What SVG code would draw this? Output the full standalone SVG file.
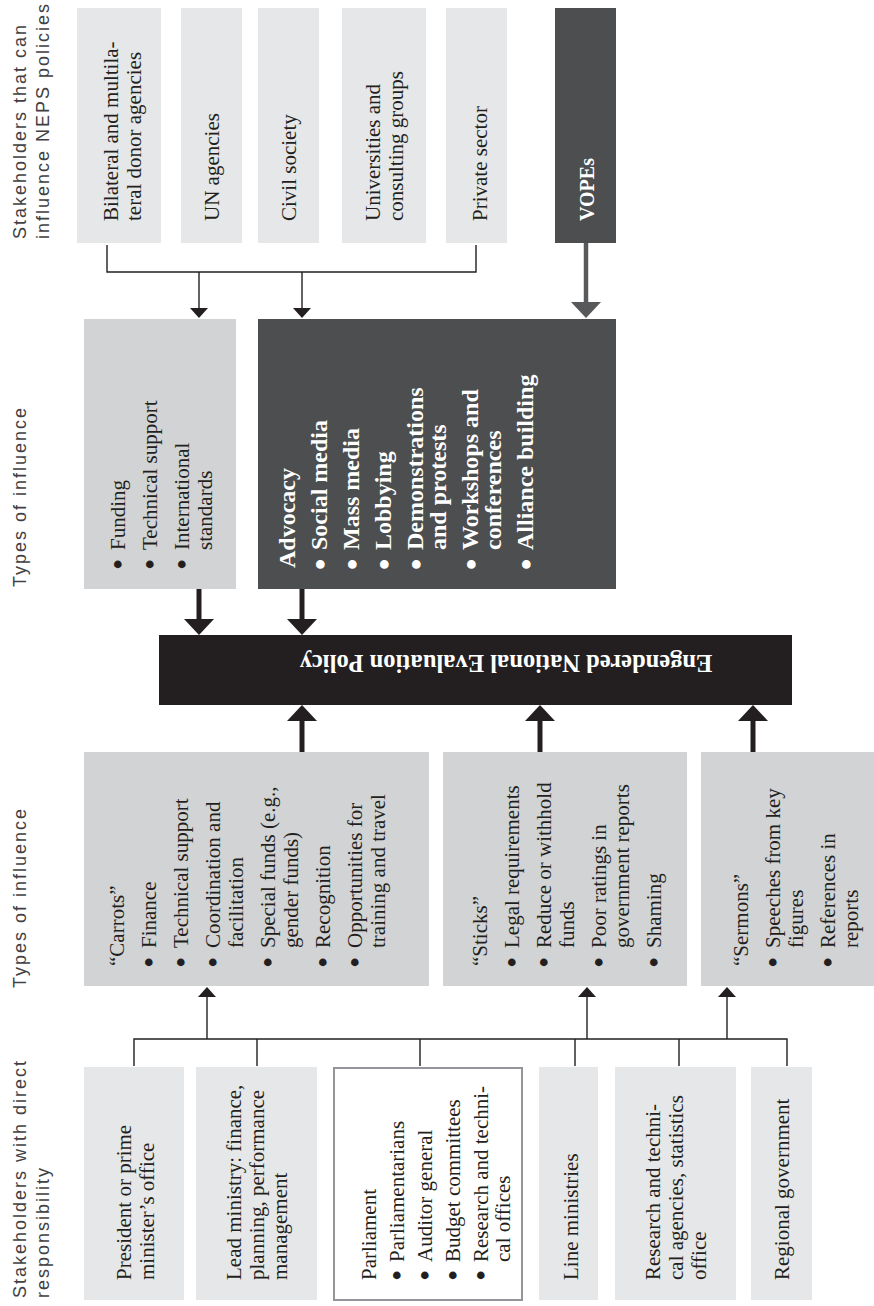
<svg xmlns="http://www.w3.org/2000/svg" width="874" height="1306" viewBox="0 0 874 1306">
<style>
.s{font-family:"Liberation Serif","Times New Roman",serif;font-size:21px;fill:#231f20}
.bw{font-family:"Liberation Serif","Times New Roman",serif;font-weight:bold;font-size:24px;fill:#ffffff}
.bu{font-size:32px}
.lab{font-family:"Liberation Sans",Arial,sans-serif;font-size:18px;letter-spacing:2px;fill:#414042}
.lg{fill:#e6e7e8}
.mg{fill:#d1d3d4}
.dk{fill:#4d4e50}
.ln{fill:none;stroke:#231f20;stroke-width:1.4}
.thk{fill:none;stroke:#231f20;stroke-width:5}
</style>
<defs>
<marker id="ah" viewBox="0 0 10 18" refX="0" refY="9" markerWidth="10" markerHeight="18" markerUnits="userSpaceOnUse" orient="auto"><path d="M0,0 L10,9 L0,18 z" fill="#231f20"/></marker>
<marker id="ahb" viewBox="0 0 16 30" refX="0" refY="15" markerWidth="16" markerHeight="30" markerUnits="userSpaceOnUse" orient="auto"><path d="M0,0 L16,15 L0,30 z" fill="#231f20"/></marker>
<marker id="ahg" viewBox="0 0 16 30" refX="0" refY="15" markerWidth="16" markerHeight="30" markerUnits="userSpaceOnUse" orient="auto"><path d="M0,0 L16,15 L0,30 z" fill="#58595b"/></marker>
</defs>

<g id="labels">
<g transform="translate(0,239) rotate(-90)"><text class="lab" x="0" y="26">Stakeholders that can</text><text class="lab" x="0" y="49">influence NEPS policies</text></g>
<g transform="translate(0,587) rotate(-90)"><text class="lab" x="0" y="26">Types of influence</text></g>
<g transform="translate(0,988) rotate(-90)"><text class="lab" x="0" y="26">Types of influence</text></g>
<g transform="translate(0,1298) rotate(-90)"><text class="lab" x="0" y="26">Stakeholders with direct</text><text class="lab" x="0" y="49">responsibility</text></g>
</g>

<g id="bilateral"><rect class="lg" x="77" y="8" width="84" height="235"/>
<g transform="translate(0,221) rotate(-90)"><text class="s" x="0" y="118">Bilateral and multila-</text><text class="s" x="0" y="141">teral donor agencies</text></g></g>
<g id="un"><rect class="lg" x="181" y="8" width="61" height="235"/>
<g transform="translate(0,221) rotate(-90)"><text class="s" x="0" y="219">UN agencies</text></g></g>
<g id="civil"><rect class="lg" x="258" y="8" width="61" height="235"/>
<g transform="translate(0,221) rotate(-90)"><text class="s" x="0" y="296">Civil society</text></g></g>
<g id="universities"><rect class="lg" x="342" y="8" width="84" height="235"/>
<g transform="translate(0,221) rotate(-90)"><text class="s" x="0" y="380">Universities and</text><text class="s" x="0" y="403">consulting groups</text></g></g>
<g id="private"><rect class="lg" x="446" y="8" width="61" height="235"/>
<g transform="translate(0,221) rotate(-90)"><text class="s" x="0" y="487">Private sector</text></g></g>
<g id="vopes"><rect class="dk" x="555" y="8" width="61" height="235"/>
<g transform="translate(0,221) rotate(-90)"><text class="bw" style="font-size:20px" x="0" y="594">VOPEs</text></g></g>

<g id="external-influence"><rect class="mg" x="84" y="319" width="152" height="270"/>
<g transform="translate(0,568) rotate(-90)">
<text class="s bu" x="-2" y="129">•</text><text class="s" x="18" y="125">Funding</text>
<text class="s bu" x="-2" y="161">•</text><text class="s" x="18" y="157">Technical support</text>
<text class="s bu" x="-2" y="193">•</text><text class="s" x="18" y="189">International</text><text class="s" x="18" y="212">standards</text>
</g></g>

<g id="advocacy"><rect class="dk" x="258" y="319" width="358" height="270"/>
<g transform="translate(0,568) rotate(-90)">
<text class="bw" x="0" y="295">Advocacy</text>
<text class="bw bu" x="-2" y="331">•</text><text class="bw" x="18" y="327">Social media</text>
<text class="bw bu" x="-2" y="363">•</text><text class="bw" x="18" y="359">Mass media</text>
<text class="bw bu" x="-2" y="395">•</text><text class="bw" x="18" y="391">Lobbying</text>
<text class="bw bu" x="-2" y="427">•</text><text class="bw" x="18" y="423">Demonstrations</text><text class="bw" x="18" y="446">and protests</text>
<text class="bw bu" x="-2" y="482">•</text><text class="bw" x="18" y="478">Workshops and</text><text class="bw" x="18" y="501">conferences</text>
<text class="bw bu" x="-2" y="537">•</text><text class="bw" x="18" y="533">Alliance building</text>
</g></g>

<g id="policy"><rect fill="#231f20" x="159" y="635" width="633" height="70"/>
<g transform="translate(506,665) rotate(180)"><text class="bw" style="font-size:24.5px" x="0" y="10" text-anchor="middle">Engendered National Evaluation Policy</text></g></g>

<g id="carrots"><rect class="mg" x="84" y="752" width="345" height="234"/>
<g transform="translate(0,966) rotate(-90)">
<text class="s" x="0" y="124">“Carrots”</text>
<text class="s bu" x="-2" y="160">•</text><text class="s" x="18" y="156">Finance</text>
<text class="s bu" x="-2" y="192">•</text><text class="s" x="18" y="188">Technical support</text>
<text class="s bu" x="-2" y="224">•</text><text class="s" x="18" y="220">Coordination and</text><text class="s" x="18" y="243">facilitation</text>
<text class="s bu" x="-2" y="279">•</text><text class="s" x="18" y="275">Special funds (e.g.,</text><text class="s" x="18" y="298">gender funds)</text>
<text class="s bu" x="-2" y="334">•</text><text class="s" x="18" y="330">Recognition</text>
<text class="s bu" x="-2" y="366">•</text><text class="s" x="18" y="362">Opportunities for</text><text class="s" x="18" y="385">training and travel</text>
</g></g>

<g id="sticks"><rect class="mg" x="443" y="752" width="244" height="234"/>
<g transform="translate(0,966) rotate(-90)">
<text class="s" x="0" y="487">“Sticks”</text>
<text class="s bu" x="-2" y="523">•</text><text class="s" x="18" y="519">Legal requirements</text>
<text class="s bu" x="-2" y="555">•</text><text class="s" x="18" y="551">Reduce or withhold</text><text class="s" x="18" y="574">funds</text>
<text class="s bu" x="-2" y="610">•</text><text class="s" x="18" y="606">Poor ratings in</text><text class="s" x="18" y="629">government reports</text>
<text class="s bu" x="-2" y="665">•</text><text class="s" x="18" y="661">Shaming</text>
</g></g>

<g id="sermons"><rect class="mg" x="701" y="752" width="173" height="234"/>
<g transform="translate(0,966) rotate(-90)">
<text class="s" x="0" y="748">“Sermons”</text>
<text class="s bu" x="-2" y="784">•</text><text class="s" x="18" y="780">Speeches from key</text><text class="s" x="18" y="803">figures</text>
<text class="s bu" x="-2" y="839">•</text><text class="s" x="18" y="835">References in</text><text class="s" x="18" y="858">reports</text>
</g></g>

<g id="president"><rect class="lg" x="84" y="1067" width="100" height="233"/>
<g transform="translate(0,1280) rotate(-90)"><text class="s" x="0" y="131">President or prime</text><text class="s" x="0" y="154">minister’s office</text></g></g>
<g id="lead-ministry"><rect class="lg" x="196" y="1067" width="121" height="233"/>
<g transform="translate(0,1280) rotate(-90)"><text class="s" x="0" y="241">Lead ministry: finance,</text><text class="s" x="0" y="264">planning, performance</text><text class="s" x="0" y="287">management</text></g></g>
<g id="parliament"><rect x="334" y="1068" width="188" height="232" fill="#ffffff" stroke="#939598" stroke-width="2"/>
<g transform="translate(0,1280) rotate(-90)">
<text class="s" x="0" y="376">Parliament</text>
<text class="s bu" x="-1" y="408">•</text><text class="s" x="18" y="404">Parliamentarians</text>
<text class="s bu" x="-1" y="436">•</text><text class="s" x="18" y="432">Auditor general</text>
<text class="s bu" x="-1" y="464">•</text><text class="s" x="18" y="460">Budget committees</text>
<text class="s bu" x="-1" y="492">•</text><text class="s" x="18" y="488">Research and techni-</text><text class="s" x="18" y="510">cal offices</text>
</g></g>
<g id="line-ministries"><rect class="lg" x="539" y="1067" width="59" height="233"/>
<g transform="translate(0,1280) rotate(-90)"><text class="s" x="0" y="578">Line ministries</text></g></g>
<g id="research-agencies"><rect class="lg" x="615" y="1067" width="121" height="233"/>
<g transform="translate(0,1280) rotate(-90)"><text class="s" x="0" y="660">Research and techni-</text><text class="s" x="0" y="683">cal agencies, statistics</text><text class="s" x="0" y="706">office</text></g></g>
<g id="regional"><rect class="lg" x="751" y="1067" width="61" height="233"/>
<g transform="translate(0,1280) rotate(-90)"><text class="s" x="0" y="789">Regional government</text></g></g>

<g id="connectors">
<path class="ln" d="M107,245 V272 H476 V245"/>
<line class="ln" x1="199" y1="272" x2="199" y2="308" marker-end="url(#ah)"/>
<line class="ln" x1="302" y1="272" x2="302" y2="308" marker-end="url(#ah)"/>
<line x1="586" y1="243" x2="586" y2="302" stroke="#58595b" stroke-width="4.5" marker-end="url(#ahg)"/>
<line class="thk" x1="199" y1="589" x2="199" y2="619" marker-end="url(#ahb)"/>
<line class="thk" x1="302" y1="589" x2="302" y2="619" marker-end="url(#ahb)"/>
<line class="thk" x1="302" y1="752" x2="302" y2="721" marker-end="url(#ahb)"/>
<line class="thk" x1="540" y1="752" x2="540" y2="721" marker-end="url(#ahb)"/>
<line class="thk" x1="753" y1="752" x2="753" y2="721" marker-end="url(#ahb)"/>
<path class="ln" d="M134,1066 V1039 H787 V1066 M257,1039 V1066 M420,1039 V1066 M575,1039 V1066 M679,1039 V1066"/>
<line class="ln" x1="207" y1="1039" x2="207" y2="997" marker-end="url(#ah)"/>
<line class="ln" x1="587" y1="1039" x2="587" y2="997" marker-end="url(#ah)"/>
<line class="ln" x1="727" y1="1039" x2="727" y2="997" marker-end="url(#ah)"/>
</g>
</svg>
